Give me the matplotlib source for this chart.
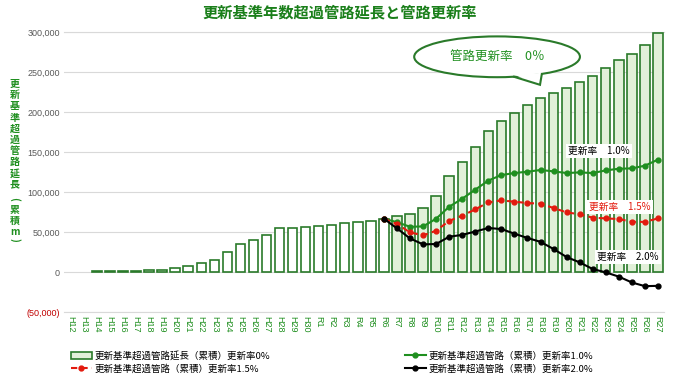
import matplotlib
matplotlib.use("Agg")
import matplotlib.pyplot as plt
from matplotlib.patches import Ellipse, Polygon, Patch
from matplotlib.lines import Line2D
import numpy as np

plt.rcParams['font.family'] = ['Noto Sans CJK JP', 'DejaVu Sans']

categories = (["H%d" % i for i in range(12, 31)] + ["R%d" % i for i in range(1, 28)])

bars_0pct = [np.nan, np.nan, 800, 800, 800, 1200, 2000, 2500, 4500, 7500, 11700, 14600,
             24600, 35600, 39800, 45900, 55200, 55200, 56000, 58100, 58500,
             60700, 62500, 64100, 66600, 70000, 72500, 79600, 95400, 119600,
             137900, 155800, 175800, 188700, 198700, 208300, 217400, 223700,
             229500, 237900, 244600, 255400, 265000, 272500, 283700, 298700]

line_start = 24  # R6
rate_10 = [66600, 62300, 56500, 57000, 66600, 81600, 91600, 102900, 114300,
           121200, 123700, 125400, 127500, 125800, 123700, 124500, 123700,
           127000, 129100, 129500, 132900, 140500]
rate_15 = [66600, 60000, 49500, 45800, 51600, 63900, 70400, 78300, 87000,
           89500, 87900, 86200, 85400, 80000, 74500, 72200, 67900, 67000,
           66200, 62700, 62700, 67000]
rate_20 = [66600, 54500, 42000, 34500, 35000, 44100, 46400, 50600, 55000,
           53700, 47900, 42500, 37700, 28700, 18700, 12000, 3700, -500,
           -5800, -13100, -17700, -17300]

yticks = [-50000, 0, 50000, 100000, 150000, 200000, 250000, 300000]
ytick_labels = ["(50,000)", "0", "50,000", "100,000", "150,000", "200,000",
                "250,000", "300,000"]

title = "更新基準年数超過管路延長と管路更新率"
ylabel = "更新基準超過管路延長(累積m)"
legend_labels = ["更新基準超過管路延長（累積）更新率0%",
                 "更新基準超過管路（累積）更新率1.5%",
                 "更新基準超過管路（累積）更新率1.0%",
                 "更新基準超過管路（累積）更新率2.0%"]

DG = '#2a7a2a'
GREEN = '#1f8f1f'
RED = '#e31a0e'
FILL = '#e2f0d9'

fig = plt.figure(figsize=(6.8, 3.82), dpi=100)
ax = fig.add_axes([64.2 / 680, (382 - 312) / 382, (664.5 - 64.2) / 680, 280 / 382])

x = np.arange(len(categories))
fills = ['white' if i <= line_start else FILL for i in range(len(categories))]
ax.bar(x, bars_0pct, width=0.72, color=fills, edgecolor=DG, linewidth=1.2, zorder=2)

xl = x[line_start:]
ax.plot(xl, rate_10, color=GREEN, lw=1.5, marker='o', ms=3.5, zorder=4)
ax.plot(xl, rate_15, color=RED, lw=1.5, ls=(0, (3, 2)), marker='o', ms=3.5, zorder=4)
ax.plot(xl, rate_20, color='black', lw=1.5, marker='o', ms=3.5, zorder=4)

ax.set_xlim(-0.5, len(categories) - 0.5)
ax.set_ylim(-50000, 300000)
ax.set_yticks(yticks)
ax.set_yticklabels(ytick_labels, fontsize=6.5, family=['Liberation Sans', 'DejaVu Sans'])
for t, v in zip(ax.get_yticklabels(), yticks):
    t.set_color('#c00000' if v < 0 else '#595959')
ax.set_xticks(x)
ax.set_xticklabels(categories, rotation=270, fontsize=6.5, color=GREEN,
                   family=['Liberation Sans', 'DejaVu Sans'])
ax.tick_params(length=0, pad=3)
ax.grid(axis='y', color='#d9d9d9', lw=0.8, zorder=0)
ax.axhline(-50000, color='#d9d9d9', lw=0.8, zorder=0, clip_on=False)
ax.axhline(300000, color='#d9d9d9', lw=0.8, zorder=0, clip_on=False)
for s in ax.spines.values():
    s.set_visible(False)

# rate labels
ax.text(40.5, 151600, "更新率　1.0%", fontsize=7, color='black', ha='center', va='center',
        bbox=dict(facecolor='white', edgecolor='none', pad=1.5), zorder=5)
ax.text(42.1, 81600, "更新率　1.5%", fontsize=7, color=RED, ha='center', va='center',
        bbox=dict(facecolor='white', edgecolor='none', pad=1.5), zorder=5)
ax.text(42.7, 19100, "更新率　2.0%", fontsize=7, color='black', ha='center', va='center',
        bbox=dict(facecolor='white', edgecolor='none', pad=1.5), zorder=5)

# callout
ell = Ellipse((32.67, 269000), 12.7, 51000, facecolor='white', edgecolor=DG, lw=1.5, zorder=6)
ax.add_patch(ell)
ax.add_patch(Polygon([(33.97, 246500), (35.96, 234000), (36.1, 249000)], closed=True,
                     facecolor='white', edgecolor='none', zorder=7))
ax.plot([33.97, 35.96, 36.1], [244000, 234000, 247400], color=DG, lw=1.5, zorder=8,
        solid_joinstyle='miter')
ax.text(32.67, 269000, "管路更新率　0％", fontsize=9, color=GREEN, ha='center', va='center', zorder=9)

fig.text(0.5, 1 - 12 / 382, title, fontsize=11, color='#1a7f1a', fontweight='bold',
         ha='center', va='center')

# vertical y-axis label, one character per row (parentheses turned for vertical writing)
ypix = [84 + i * 11.2 for i in range(10)] + [199, 209.5, 221, 231.5, 240]
for ch, yp in zip(ylabel, ypix):
    rot = 270 if ch in "()" else 0
    fig.text(15 / 680, 1 - yp / 382, ch, fontsize=7.2, color=GREEN, fontweight='bold',
             ha='center', va='center', rotation=rot)

h_bar = Patch(facecolor=FILL, edgecolor=DG, lw=1.2)
h_r = Line2D([], [], color=RED, lw=1.5, ls=(0, (3, 2)), marker='o', ms=3.5)
h_g = Line2D([], [], color=GREEN, lw=1.5, marker='o', ms=3.5)
h_k = Line2D([], [], color='black', lw=1.5, marker='o', ms=3.5)

leg1 = fig.legend([h_bar, h_r], legend_labels[:2], loc='upper left',
                  bbox_to_anchor=(66 / 680, 1 - 346 / 382), frameon=False, fontsize=6.8,
                  handlelength=2.2, handletextpad=0.3, labelspacing=0.35, borderpad=0)
leg2 = fig.legend([h_g, h_k], legend_labels[2:], loc='upper left',
                  bbox_to_anchor=(400 / 680, 1 - 346 / 382), frameon=False, fontsize=6.8,
                  handlelength=2.2, handletextpad=0.3, labelspacing=0.35, borderpad=0)

fig.savefig("out.png", dpi=100)
